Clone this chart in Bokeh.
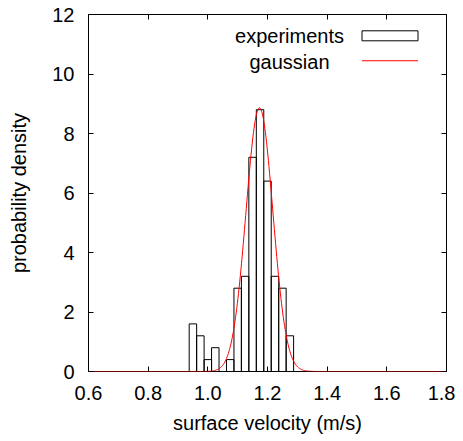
import numpy as np
from bokeh.plotting import figure
from bokeh.models import (ColumnDataSource, LinearAxis, Range1d, Label, BoxAnnotation,
                          SingleIntervalTicker, CustomJSTickFormatter)
from bokeh.embed import file_html
from bokeh.resources import INLINE

# histogram of surface velocity (bin centres, bin width 0.025 m/s)
bin_centers = [0.95, 0.975, 1.0, 1.025, 1.05, 1.075, 1.1, 1.125, 1.15, 1.175, 1.2, 1.225, 1.25, 1.275]
density = [1.6, 1.2, 0.4, 0.8, 0.0, 0.4, 2.8, 3.2, 7.2, 8.8, 6.4, 3.2, 2.8, 1.2]
bin_width = 0.025

# gaussian fit parameters
mu = 1.173
sigma = 0.045

series_names = ["experiments", "gaussian"]
x_label = "surface velocity (m/s)"
y_label = "probability density"

FONT = "Liberation Sans"

p = figure(width=455, height=436, output_backend="svg", toolbar_location=None,
           x_range=Range1d(0.6, 1.8), y_range=Range1d(0, 12),
           min_border_left=88, min_border_right=9, min_border_top=14, min_border_bottom=64)
p.xgrid.visible = False
p.ygrid.visible = False
p.outline_line_color = "black"
p.outline_line_width = 1
p.background_fill_color = "white"
p.border_fill_color = "white"

src = ColumnDataSource(dict(
    left=[c - bin_width / 2 for c in bin_centers],
    right=[c + bin_width / 2 for c in bin_centers],
    top=density,
    bottom=[0] * len(density),
))
p.quad(left="left", right="right", top="top", bottom="bottom", source=src,
       fill_color=None, line_color="black", line_width=1)

xs = np.linspace(0.6, 1.8, 600)
ys = np.exp(-0.5 * ((xs - mu) / sigma) ** 2) / (sigma * np.sqrt(2 * np.pi))
p.line(xs, ys, line_color="red", line_width=1)

xt = SingleIntervalTicker(interval=0.2, num_minor_ticks=0)
yt = SingleIntervalTicker(interval=2, num_minor_ticks=0)

for ax in (p.xaxis[0], p.yaxis[0]):
    ax.major_tick_in = 5
    ax.major_tick_out = 0
    ax.minor_tick_line_color = None
    ax.axis_line_color = None
    ax.major_label_text_font = FONT
    ax.major_label_text_font_size = "20px"
    ax.major_label_text_color = "black"
    ax.axis_label_text_font = FONT
    ax.axis_label_text_font_size = "20px"
    ax.axis_label_text_font_style = "normal"
    ax.axis_label_text_color = "black"
    ax.major_tick_line_color = "black"

p.xaxis[0].ticker = xt
p.yaxis[0].ticker = yt
p.xaxis[0].axis_label = x_label
p.yaxis[0].axis_label = y_label
p.xaxis[0].major_label_standoff = 14
p.yaxis[0].major_label_standoff = 14
p.xaxis[0].axis_label_standoff = 9
p.yaxis[0].axis_label_standoff = 19
p.xaxis[0].major_label_overrides = {0.6: "0.6", 0.8: "0.8", 1.0: "1.0", 1.2: "1.2", 1.4: "1.4", 1.6: "1.6", 1.8: "1.8"}

# mirrored ticks on top and right
top_ax = LinearAxis(ticker=SingleIntervalTicker(interval=0.2, num_minor_ticks=0))
right_ax = LinearAxis(ticker=SingleIntervalTicker(interval=2, num_minor_ticks=0))
for ax in (top_ax, right_ax):
    ax.major_tick_in = 5
    ax.major_tick_out = 0
    ax.minor_tick_line_color = None
    ax.axis_line_color = None
    ax.formatter = CustomJSTickFormatter(code="return ''")
    ax.major_label_standoff = 0
    ax.major_tick_line_color = "black"
p.add_layout(top_ax, "above")
p.add_layout(right_ax, "right")

# key (text to the left of the sample, as in the original)
p.add_layout(Label(x=201, y=335.5, x_units="screen", y_units="screen", text=series_names[0],
                   text_font=FONT, text_font_size="20px", text_align="center",
                   text_baseline="middle", text_color="black"))
p.add_layout(Label(x=201, y=309.5, x_units="screen", y_units="screen", text=series_names[1],
                   text_font=FONT, text_font_size="20px", text_align="center",
                   text_baseline="middle", text_color="black"))
p.add_layout(BoxAnnotation(left=273.5, right=329.5, bottom=330.7, top=340.7,
                           left_units="screen", right_units="screen",
                           bottom_units="screen", top_units="screen",
                           fill_color=None, fill_alpha=0, line_color="black",
                           line_alpha=1, line_width=1))
p.add_layout(BoxAnnotation(left=273.5, right=329.5, bottom=310.2, top=311.2,
                           left_units="screen", right_units="screen",
                           bottom_units="screen", top_units="screen",
                           fill_color="red", fill_alpha=1, line_color=None))

open("out.html", "w").write(file_html(p, INLINE))
